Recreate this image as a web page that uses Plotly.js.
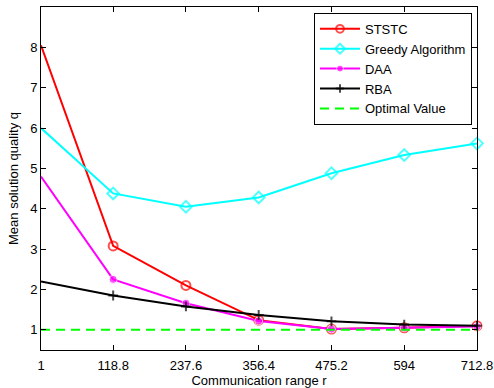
<!DOCTYPE html>
<html>
<head>
<meta charset="utf-8">
<script src="https://cdn.plot.ly/plotly-3.0.1.min.js"></script>
<style>
  html, body { margin: 0; padding: 0; background: #fff; }
  #chart { width: 494px; height: 388px; }
</style>
</head>
<body>
<div id="chart"></div>
<script>
// Communication range values (x) and tick labels
const ranges = [1, 118.8, 237.6, 356.4, 475.2, 594, 712.8];
const rangeLabels = ['1', '118.8', '237.6', '356.4', '475.2', '594', '712.8'];

// Mean solution quality for each method
const ststc  = [8.05, 3.08, 2.10, 1.24, 1.02, 1.05, 1.10];
const greedy = [6.00, 4.38, 4.05, 4.28, 4.88, 5.33, 5.62];
const daa    = [4.80, 2.25, 1.66, 1.22, 1.02, 1.05, 1.08];
const rba    = [2.20, 1.85, 1.58, 1.37, 1.21, 1.13, 1.10];
const optimal = [1, 1, 1, 1, 1, 1, 1];

// The sample at the left axis limit carries no marker
const markerSizes = (s) => ranges.map((_, i) => (i === 0 ? 0 : s));

const traces = [
  {
    x: ranges, y: ststc, name: 'STSTC', mode: 'lines+markers', cliponaxis: false,
    line: { color: '#ff0000', width: 2 },
    marker: { symbol: 'circle-open', size: markerSizes(9), color: '#ff0000', line: { width: 2 } }
  },
  {
    x: ranges, y: greedy, name: 'Greedy Algorithm', mode: 'lines+markers', cliponaxis: false,
    line: { color: '#00ffff', width: 2 },
    marker: { symbol: 'diamond-open', size: markerSizes(9), color: '#00ffff', line: { width: 2 } }
  },
  {
    x: ranges, y: daa, name: 'DAA', mode: 'lines+markers', cliponaxis: false,
    line: { color: '#ff00ff', width: 2 },
    marker: { symbol: 'circle', size: markerSizes(8), color: '#ff00ff' }
  },
  {
    x: ranges, y: rba, name: 'RBA', mode: 'lines+markers', cliponaxis: false,
    line: { color: '#000000', width: 2 },
    marker: { symbol: 'cross-thin-open', size: markerSizes(7), color: '#000000', line: { width: 2, color: '#000000' } }
  },
  {
    x: ranges, y: optimal, name: 'Optimal Value', mode: 'lines',
    line: { color: '#00ff00', width: 2, dash: '9px,6px' }
  }
];

const axisFont = { family: 'Liberation Sans, Arial, sans-serif', size: 13, color: '#000' };

const layout = {
  width: 494, height: 388,
  margin: { l: 41, r: 17, t: 7, b: 38 },
  paper_bgcolor: '#fff', plot_bgcolor: '#fff',
  font: axisFont,
  showlegend: true,
  legend: {
    x: 0.9885, y: 0.983, xanchor: 'right', yanchor: 'top',
    bgcolor: '#fff', bordercolor: '#000', borderwidth: 1,
    font: { family: 'Liberation Sans, Arial, sans-serif', size: 13, color: '#000' },
    tracegroupgap: 0, itemwidth: 40
  },
  xaxis: {
    range: [1, 712.8],
    tickvals: ranges, ticktext: rangeLabels,
    ticks: 'inside', ticklen: 5, tickwidth: 1, tickcolor: '#000',
    showline: true, linecolor: '#000', linewidth: 1, mirror: 'ticks',
    showgrid: false, zeroline: false,
    tickfont: axisFont, ticklabelstandoff: 3,
    title: { text: 'Communication range r', font: axisFont, standoff: 0 }
  },
  yaxis: {
    range: [0.5, 9],
    tickvals: [1, 2, 3, 4, 5, 6, 7, 8, 9],
    ticks: 'inside', ticklen: 5, tickwidth: 1, tickcolor: '#000',
    showline: true, linecolor: '#000', linewidth: 1, mirror: 'ticks',
    showgrid: false, zeroline: false,
    tickfont: axisFont,
    title: { text: 'Mean solution quality q', font: axisFont, standoff: 8 }
  }
};

Plotly.newPlot('chart', traces, layout, { displayModeBar: false, staticPlot: true });
</script>
</body>
</html>
